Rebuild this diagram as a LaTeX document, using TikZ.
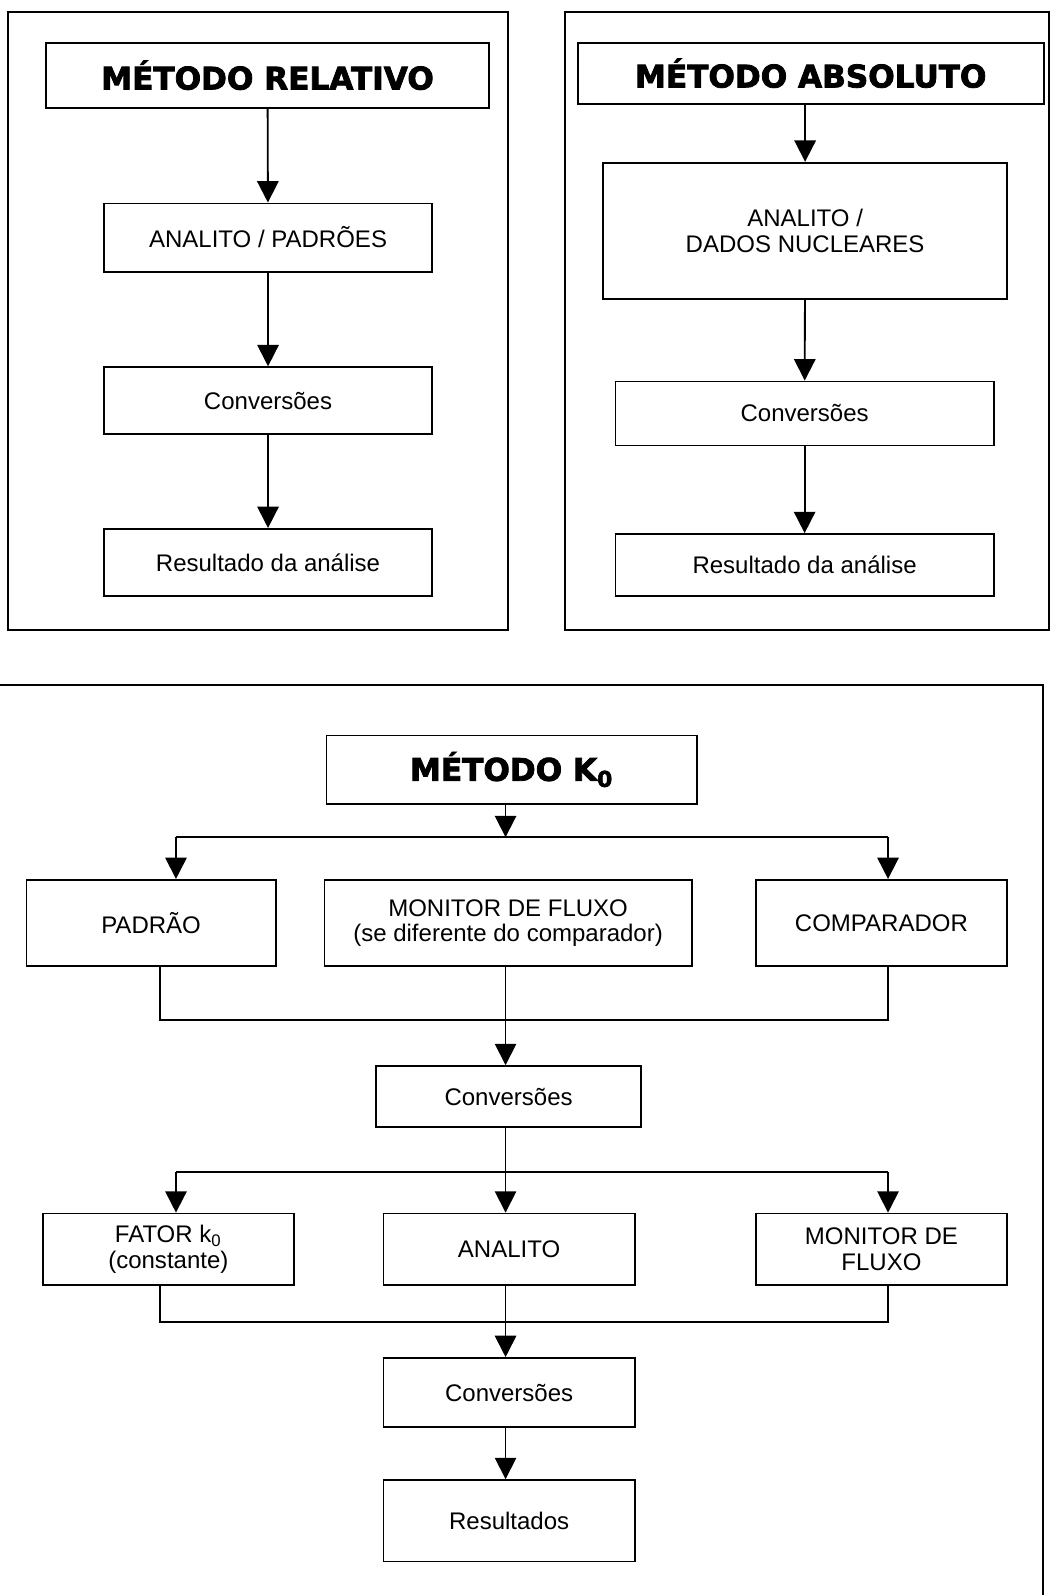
\documentclass[tikz,border=0pt]{standalone}
\usepackage{fontspec}
\setmainfont{Liberation Sans}
\newfontfamily\heavyfont{DejaVu Sans Bold}[FakeBold=2.5]
\usepackage{tikz}
\usetikzlibrary{arrows.meta}
\tikzset{
  box/.style={draw, line width=0.9pt, align=center, inner sep=0pt,
    font={\fontsize{11.8}{12.5}\selectfont}},
  titlebox/.style={box, font={\heavyfont\fontsize{15.3}{18}\selectfont}},
  arr/.style={-{Triangle[length=10.5pt,width=10.5pt]}, line width=0.9pt},
  bus/.style={line width=0.9pt},
  frame/.style={draw, line width=1pt}
}

\begin{document}
\begin{tikzpicture}[x=0.5pt,y=-0.5pt]
  \useasboundingbox (0,0) rectangle (1035,1568);
  \draw[frame] (8,12) rectangle (499,619);
  \draw[frame] (555,12) rectangle (1031,619);
  \draw[frame] (-10,673) rectangle (1025,1600);

  \node[titlebox, minimum width=218pt, minimum height=32pt] (relT) at (263,74) {MÉTODO RELATIVO};
  \node[box, minimum width=161.5pt, minimum height=33.5pt] (relA) at (263.5,233.5) {ANALITO / PADRÕES};
  \node[box, minimum width=161.5pt, minimum height=33pt] (relC) at (263.5,394) {Conversões};
  \node[box, minimum width=161.5pt, minimum height=33pt] (relR) at (263.5,553) {Resultado da análise};
  \draw[arr] (relT) -- (relA);
  \draw[arr] (relA) -- (relC);
  \draw[arr] (relC) -- (relR);

  \node[titlebox, minimum width=229pt, minimum height=30pt] (absT) at (797,72) {MÉTODO ABSOLUTO};
  \node[box, minimum width=198.5pt, minimum height=67pt] (absA) at (791.5,227) {ANALITO /\\DADOS NUCLEARES};
  \node[box, minimum width=186pt, minimum height=31.5pt] (absC) at (791,406.5) {Conversões};
  \node[box, minimum width=186pt, minimum height=30.5pt] (absR) at (791,555.5) {Resultado da análise};
  \draw[arr] (absT.south -| absA.north) -- (absA.north);
  \draw[arr] (absA) -- (absC);
  \draw[arr] (absC) -- (absR);

  \node[titlebox, minimum width=182pt, minimum height=33.5pt] (k0T) at (503,756.5) {MÉTODO K\textsubscript{0}};
  \node[box, minimum width=122.5pt, minimum height=42.5pt] (pad) at (148.5,907.5) {PADRÃO};
  \node[box, minimum width=180.5pt, minimum height=42.5pt] (mon) at (499.5,907.5) {MONITOR DE FLUXO\\(se diferente do comparador)};
  \node[box, minimum width=123.5pt, minimum height=42.5pt] (cmp) at (866.5,907.5) {COMPARADOR};
  \node[box, minimum width=130pt, minimum height=30pt] (conv1) at (500,1078) {Conversões};
  \node[box, minimum width=123.5pt, minimum height=35pt] (fat) at (165.5,1228) {FATOR k\textsubscript{0}\\(constante)};
  \node[box, minimum width=123.5pt, minimum height=35pt] (ana) at (500.5,1228) {ANALITO};
  \node[box, minimum width=123.5pt, minimum height=35pt] (mon2) at (866.5,1228) {MONITOR DE\\FLUXO};
  \node[box, minimum width=123.5pt, minimum height=34pt] (conv2) at (500.5,1369) {Conversões};
  \node[box, minimum width=123.5pt, minimum height=40pt] (res) at (500.5,1495) {Resultados};

  \coordinate (b1l) at (173,823);
  \coordinate (b1m) at (497,823);
  \coordinate (b1r) at (873,823);
  \coordinate (b2l) at (157,1003);
  \coordinate (b2m) at (497,1003);
  \coordinate (b2r) at (873,1003);
  \coordinate (b3l) at (173,1152);
  \coordinate (b3m) at (497,1152);
  \coordinate (b3r) at (873,1152);
  \coordinate (b4l) at (157,1300);
  \coordinate (b4m) at (497,1300);
  \coordinate (b4r) at (873,1300);

  \draw[arr] (k0T.south -| b1m) -- (b1m);
  \draw[bus] (b1l) -- (b1r);
  \draw[arr] (b1l) -- (b1l |- pad.north);
  \draw[arr] (b1r) -- (b1r |- cmp.north);

  \draw[bus] (pad.south -| b2l) -- (b2l) -- (b2r) -- (cmp.south -| b2r);
  \draw[bus] (mon.south -| b2m) -- (b2m);
  \draw[arr] (b2m) -- (b2m |- conv1.north);

  \draw[bus] (conv1.south -| b3m) -- (b3m);
  \draw[bus] (b3l) -- (b3r);
  \draw[arr] (b3l) -- (b3l |- fat.north);
  \draw[arr] (b3m) -- (b3m |- ana.north);
  \draw[arr] (b3r) -- (b3r |- mon2.north);

  \draw[bus] (fat.south -| b4l) -- (b4l) -- (b4r) -- (mon2.south -| b4r);
  \draw[bus] (ana.south -| b4m) -- (b4m);
  \draw[arr] (b4m) -- (b4m |- conv2.north);
  \draw[arr] (conv2.south -| b4m) -- (b4m |- res.north);
\end{tikzpicture}
\end{document}
